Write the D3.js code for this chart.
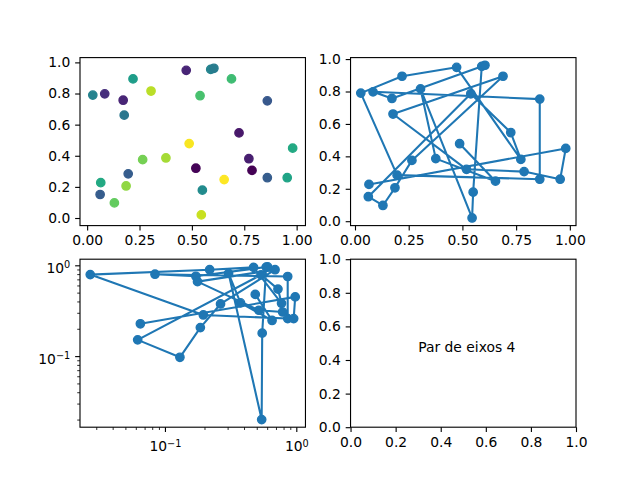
<!DOCTYPE html>
<html>
<head>
<meta charset="utf-8">
<title>Pares de eixos</title>
<script src="https://d3js.org/d3.v7.min.js"></script>
<style>
	body { margin: 0; background: #fff; }
</style>
</head>
<body>
<script>
// pontos, na ordem em que a linha os liga
var xs = [0.487, 0.654, 0.376, 0.305, 0.545, 0.550, 0.590, 0.605, 0.172, 0.084,
          0.860, 0.860, 0.196, 0.027, 0.219, 0.473, 0.772, 0.725, 0.539, 0.062,
          0.130, 0.186, 0.265, 0.689, 0.177, 0.519, 0.787, 0.955, 0.981, 0.065];
var ys = [0.478, 0.247, 0.386, 0.816, 0.020, 0.179, 0.955, 0.962, 0.757, 0.798,
          0.753, 0.259, 0.284, 0.790, 0.894, 0.949, 0.381, 0.547, 0.786, 0.151,
          0.097, 0.206, 0.375, 0.894, 0.661, 0.320, 0.306, 0.259, 0.449, 0.227];
// cores do scatter (viridis)
var cs = [0.97, 0.98, 0.85, 0.88, 0.90, 0.48, 0.45, 0.42, 0.12, 0.15,
          0.28, 0.30, 0.30, 0.45, 0.55, 0.12, 0.10, 0.08, 0.70, 0.30,
          0.75, 0.82, 0.78, 0.68, 0.40, 0.03, 0.02, 0.58, 0.60, 0.60];

var xTicks = [0, 0.25, 0.5, 0.75, 1];
var yTicks = [0, 0.2, 0.4, 0.6, 0.8, 1];
var unitTicks = [0, 0.2, 0.4, 0.6, 0.8, 1];
var logTicks = [0.1, 1];
var label4 = "Par de eixos 4";
var label4Pos = [0.3, 0.45];

var width = 640, height = 480;
var pt = 100 / 72;
var fontSize = 10 * pt;
var blue = "#1f77b4";

var svg = d3.select("body").append("svg")
	.attr("width", width)
	.attr("height", height);

// grelha 2x2 (left .125, right .9, bottom .11, top .88, wspace/hspace .2)
var axW = (0.775 * width) / 2.2, axH = (0.77 * height) / 2.2;
var x0 = 0.125 * width, y0 = 0.12 * height;
var boxes = [
	{ x: x0, y: y0 },
	{ x: x0 + axW * 1.2, y: y0 },
	{ x: x0, y: y0 + axH * 1.2 },
	{ x: x0 + axW * 1.2, y: y0 + axH * 1.2 }
];

function pad(ext, f) {
	var r = ext[1] - ext[0];
	return [ext[0] - f * r, ext[1] + f * r];
}
function logPad(ext, f) {
	var a = Math.log10(ext[0]), b = Math.log10(ext[1]), r = b - a;
	return [Math.pow(10, a - f * r), Math.pow(10, b + f * r)];
}

var pts = xs.map(function (x, i) { return { x: x, y: ys[i], c: cs[i] }; });

function styleAxis(g) {
	g.select(".domain").remove();
	g.selectAll(".tick line").attr("stroke", "#000").attr("stroke-width", 0.8 * pt);
	g.selectAll(".tick text")
		.attr("fill", "#000")
		.attr("font-family", "'DejaVu Sans', sans-serif")
		.attr("font-size", fontSize);
}

function panel(b, xs_, ys_, xt, yt, xf, yf) {
	var g = svg.append("g").attr("transform", "translate(" + b.x + "," + b.y + ")");
	var gx = g.append("g").attr("transform", "translate(0," + axH + ")")
		.call(d3.axisBottom(xs_).tickValues(xt).tickFormat(xf)
			.tickSize(3.5 * pt).tickPadding(3.5 * pt));
	styleAxis(gx);
	var gy = g.append("g")
		.call(d3.axisLeft(ys_).tickValues(yt).tickFormat(yf)
			.tickSize(3.5 * pt).tickPadding(3.5 * pt));
	styleAxis(gy);
	return g;
}

function spines(g) {
	g.append("rect")
		.attr("width", axW).attr("height", axH)
		.attr("fill", "none")
		.attr("stroke", "#000")
		.attr("stroke-width", 0.8 * pt);
}

// 1: scatter
var sx1 = d3.scaleLinear().domain(pad(d3.extent(xs), 0.064)).range([0, axW]);
var sy1 = d3.scaleLinear().domain(pad(d3.extent(ys), 0.073)).range([axH, 0]);
var color = d3.scaleSequential(d3.interpolateViridis).domain(d3.extent(cs));
var g1 = panel(boxes[0], sx1, sy1, xTicks, yTicks, d3.format(".2f"), d3.format(".1f"));
g1.selectAll("circle").data(pts).enter().append("circle")
	.attr("cx", function (d) { return sx1(d.x); })
	.attr("cy", function (d) { return sy1(d.y); })
	.attr("r", 3 * pt)
	.style("fill", function (d) { return color(d.c); })
	.style("stroke", function (d) { return color(d.c); })
	.style("stroke-width", 1 * pt);
spines(g1);

// 2: linha com marcadores
var sx2 = d3.scaleLinear().domain(pad(d3.extent(xs), 0.05)).range([0, axW]);
var sy2 = d3.scaleLinear().domain(pad(d3.extent(ys), 0.05)).range([axH, 0]);
var g2 = panel(boxes[1], sx2, sy2, xTicks, yTicks, d3.format(".2f"), d3.format(".1f"));
g2.append("path").datum(pts)
	.attr("d", d3.line().x(function (d) { return sx2(d.x); }).y(function (d) { return sy2(d.y); }))
	.attr("fill", "none").attr("stroke", blue)
	.attr("stroke-width", 1.5 * pt).attr("stroke-linejoin", "round");
g2.selectAll("circle").data(pts).enter().append("circle")
	.attr("cx", function (d) { return sx2(d.x); })
	.attr("cy", function (d) { return sy2(d.y); })
	.attr("r", 3 * pt)
	.style("fill", blue).style("stroke", blue).style("stroke-width", 1 * pt);
spines(g2);

// 3: loglog
var sx3 = d3.scaleLog().domain(logPad(d3.extent(xs), 0.05)).range([0, axW]);
var sy3 = d3.scaleLog().domain(logPad(d3.extent(ys), 0.05)).range([axH, 0]);
function minors(dom) {
	var out = [];
	for (var k = -3; k <= 1; k++) {
		for (var m = 2; m <= 9; m++) {
			var v = m * Math.pow(10, k);
			if (v >= dom[0] && v <= dom[1]) out.push(v);
		}
	}
	return out;
}
var g3 = svg.append("g").attr("transform", "translate(" + boxes[2].x + "," + boxes[2].y + ")");
function expLabel(sel) {
	sel.each(function (d) {
		var t = d3.select(this).text("10");
		t.append("tspan")
			.attr("dy", "-0.45em")
			.attr("font-size", fontSize * 0.7)
			.text(String(Math.round(Math.log10(d))).replace("-", "\u2212"));
	});
}
var gx3 = g3.append("g").attr("transform", "translate(0," + axH + ")")
	.call(d3.axisBottom(sx3).tickValues(minors(sx3.domain())).tickFormat("").tickSize(2 * pt));
styleAxis(gx3);
gx3.selectAll(".tick line").attr("stroke-width", 0.6 * pt);
var gx3m = g3.append("g").attr("transform", "translate(0," + axH + ")")
	.call(d3.axisBottom(sx3).tickValues(logTicks).tickSize(3.5 * pt).tickPadding(3.5 * pt));
styleAxis(gx3m);
gx3m.selectAll(".tick text").attr("dy", "1.05em").call(expLabel);
var gy3 = g3.append("g")
	.call(d3.axisLeft(sy3).tickValues(minors(sy3.domain())).tickFormat("").tickSize(2 * pt));
styleAxis(gy3);
gy3.selectAll(".tick line").attr("stroke-width", 0.6 * pt);
var gy3m = g3.append("g")
	.call(d3.axisLeft(sy3).tickValues(logTicks).tickSize(3.5 * pt).tickPadding(3.5 * pt));
styleAxis(gy3m);
gy3m.selectAll(".tick text").attr("dy", "0.5em").call(expLabel);

g3.append("path").datum(pts)
	.attr("d", d3.line().x(function (d) { return sx3(d.x); }).y(function (d) { return sy3(d.y); }))
	.attr("fill", "none").attr("stroke", blue)
	.attr("stroke-width", 1.5 * pt).attr("stroke-linejoin", "round");
g3.selectAll("circle").data(pts).enter().append("circle")
	.attr("cx", function (d) { return sx3(d.x); })
	.attr("cy", function (d) { return sy3(d.y); })
	.attr("r", 3 * pt)
	.style("fill", blue).style("stroke", blue).style("stroke-width", 1 * pt);
spines(g3);

// 4: so texto
var sx4 = d3.scaleLinear().domain([0, 1]).range([0, axW]);
var sy4 = d3.scaleLinear().domain([0, 1]).range([axH, 0]);
var g4 = panel(boxes[3], sx4, sy4, unitTicks, unitTicks, d3.format(".1f"), d3.format(".1f"));
g4.append("text")
	.attr("x", sx4(label4Pos[0]))
	.attr("y", sy4(label4Pos[1]))
	.attr("font-family", "'DejaVu Sans', sans-serif")
	.attr("font-size", fontSize)
	.attr("fill", "#000")
	.text(label4);
spines(g4);
</script>
</body>
</html>
